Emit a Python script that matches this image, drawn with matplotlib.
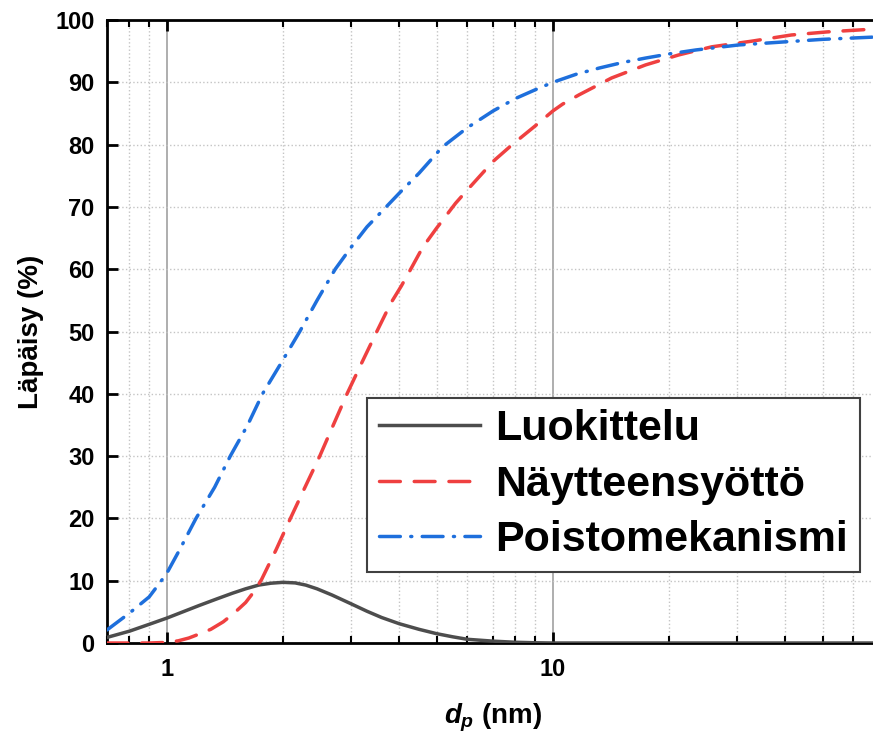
import matplotlib
matplotlib.use("Agg")
import matplotlib.pyplot as plt
from matplotlib.ticker import LogLocator, FixedLocator, NullFormatter, FixedFormatter

plt.rcParams['font.family'] = ['Liberation Sans', 'DejaVu Sans']
plt.rcParams['font.weight'] = 'bold'
plt.rcParams['mathtext.fontset'] = 'custom'
plt.rcParams['mathtext.it'] = 'Liberation Sans:bold:italic'
plt.rcParams['mathtext.rm'] = 'Liberation Sans:bold'

# particle size (nm) and penetration (%) for each loss mechanism
x_luok = [0.7, 0.8, 0.9, 1.0, 1.1, 1.21, 1.35, 1.48, 1.6, 1.73, 1.86, 2.0, 2.15,
          2.29, 2.45, 2.68, 3.0, 3.3, 3.6, 4.0, 4.5, 5.0, 5.5, 6.0, 7.0, 8.0,
          9.0, 10, 20, 70]
y_luok = [0.9, 1.9, 3.0, 4.0, 5.0, 6.0, 7.1, 8.0, 8.7, 9.3, 9.6, 9.74, 9.65,
          9.3, 8.7, 7.7, 6.3, 5.1, 4.1, 3.1, 2.2, 1.5, 1.0, 0.6, 0.3, 0.12,
          0.04, 0, 0, 0]

x_nayt = [0.7, 0.9, 1.0, 1.07, 1.14, 1.22, 1.3, 1.4, 1.5, 1.6, 1.68, 1.76, 1.92,
          2.09, 2.28, 2.49, 2.7, 2.93, 3.2, 3.5, 3.8, 4.05, 4.24, 4.6, 5.0, 5.6,
          6.0, 7.0, 7.85, 9.0, 10.0, 10.6, 11.7, 14.2, 17.4, 21.2, 25.8, 32.7,
          41.5, 51.5, 70]
y_nayt = [0, 0, 0.1, 0.35, 0.8, 1.5, 2.2, 3.4, 4.9, 6.5, 8.2, 10.2, 15,
          20, 25, 30, 35, 40, 45, 50, 54.5, 57.3, 59.5, 63.5, 66.6, 70.6,
          72.7, 77.3, 80, 83, 85.4, 86.5, 88, 90.7, 92.8, 94.4, 95.7, 96.6,
          97.6, 98.1, 98.6]

x_poisto = [0.7, 0.8, 0.9, 0.96, 1.0, 1.08, 1.19, 1.33, 1.46, 1.62, 1.77, 1.98,
            2.21, 2.45, 2.73, 3.0, 3.3, 3.7, 4.0, 4.5, 5.17, 6.0, 7.0, 8.0, 9.0,
            10, 11.5, 13.2, 15.2, 17.4, 20.2, 23.5, 30.3, 40, 50, 70]
y_poisto = [2.1, 4.8, 7.4, 9.7, 11.2, 15, 20, 25, 30, 35, 40, 45,
            50, 55, 60, 63.5, 66.8, 70, 72.2, 75.4, 79.6, 82.7, 85.4, 87.4, 88.8,
            90, 91.3, 92.3, 93.2, 93.9, 94.6, 95.2, 96, 96.5, 96.9, 97.3]

labels = ['Luokittelu', 'Näytteensyöttö', 'Poistomekanismi']
y_ticks = list(range(0, 101, 10))

fig = plt.figure(figsize=(8.73, 7.42), dpi=100)
ax = fig.add_axes([0.1226, 0.1334, 0.8843, 0.8396])

ax.plot(x_luok, y_luok, color='#4d4d4d', lw=2.5, label=labels[0], zorder=3)
ax.plot(x_nayt, y_nayt, color='#ef4040', lw=2.5, ls=(0, (6, 4)),
        dash_capstyle='round', label=labels[1], zorder=3)
ax.plot(x_poisto, y_poisto, color='#1e6fdc', lw=2.5, ls=(0, (6, 3, 0.3, 3)),
        dash_capstyle='round', label=labels[2], zorder=3)

ax.set_xscale('log')
ax.set_xlim(0.7, 70)
ax.set_ylim(0, 100)

ax.xaxis.set_major_locator(FixedLocator([1, 10]))
ax.xaxis.set_major_formatter(FixedFormatter(['1', '10']))
ax.xaxis.set_minor_locator(LogLocator(base=10, subs=range(2, 10)))
ax.xaxis.set_minor_formatter(NullFormatter())
ax.set_yticks(y_ticks)

ax.tick_params(axis='both', which='major', direction='in', length=8, width=2,
               labelsize=17, top=True, right=False)
ax.tick_params(axis='x', which='major', pad=11)
ax.tick_params(axis='y', which='major', pad=9)
ax.tick_params(axis='x', which='minor', direction='in', length=5, width=1.5, top=True)

ax.grid(True, which='minor', axis='x', ls=':', color='#c4c4c4', lw=1)
ax.grid(True, which='major', axis='y', ls=':', color='#c4c4c4', lw=1)
ax.grid(True, which='major', axis='x', ls='-', color='#a8a8a8', lw=1.3)
ax.set_axisbelow(True)

for side in ['left', 'top', 'bottom']:
    ax.spines[side].set_linewidth(2)
ax.spines['right'].set_visible(False)

ax.set_xlabel(r'$d_p$ (nm)', fontsize=20, fontweight='bold', labelpad=15)
ax.set_ylabel('Läpäisy (%)', fontsize=20, fontweight='bold', labelpad=8)

leg = ax.legend(loc='lower right', bbox_to_anchor=(0.975, 0.114),
                prop={'weight': 'bold', 'size': 31}, handlelength=2.35,
                fancybox=False, framealpha=1, edgecolor='#404040',
                borderpad=0.27, labelspacing=0.36, handletextpad=0.35,
                borderaxespad=0)
leg.get_frame().set_linewidth(1.5)

fig.savefig('out.png', dpi=100)
